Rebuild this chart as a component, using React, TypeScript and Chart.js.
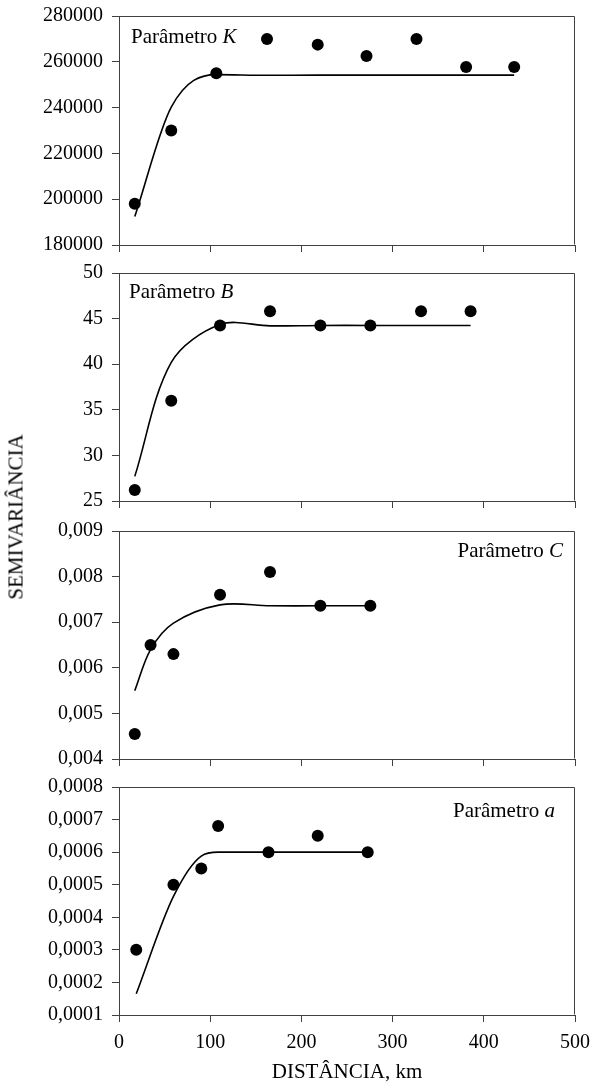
import React, { useEffect, useRef } from 'react';
import { Chart, registerables } from 'chart.js';

Chart.register(...registerables);

const FONT = "'Liberation Serif', 'Times New Roman', serif";
const AXIS_COLOR = '#404040';

// ---------- data ----------
const distTicks = [0, 100, 200, 300, 400, 500];

// Parâmetro K
const distK = [17.3, 57.3, 106.7, 162.3, 217.9, 271.4, 326.2, 380.6, 433.3];
const semivarK = [198000, 230000, 255000, 270000, 267500, 262500, 270000, 257700, 257700];
const modelK = [192400, 240200, 254400, 254100, 254200, 254200, 254200, 254200, 254200];
const ticksK = [180000, 200000, 220000, 240000, 260000, 280000];

// Parâmetro B
const distB = [17.3, 57.3, 110.8, 165.6, 220.8, 275.6, 331.2, 385.5];
const semivarB = [26.2, 36.0, 44.25, 45.8, 44.25, 44.25, 45.8, 45.8];
const modelB = [27.7, 40.2, 44.35, 44.2, 44.25, 44.25, 44.25, 44.25];
const ticksB = [25, 30, 35, 40, 45, 50];

// Parâmetro C
const distC = [17.3, 34.6, 59.7, 110.8, 165.6, 220.8, 275.6];
const semivarC = [0.00455, 0.0065, 0.0063, 0.0076, 0.0081, 0.00736, 0.00736];
const modelC = [0.0055, 0.0064, 0.00698, 0.00738, 0.00736, 0.00736, 0.00736];
const ticksC = [0.004, 0.005, 0.006, 0.007, 0.008, 0.009];

// Parâmetro a
const distA = [18.9, 59.7, 90.2, 108.7, 163.9, 217.9, 272.7];
const semivarA = [0.0003, 0.0005, 0.00055, 0.00068, 0.0006, 0.00065, 0.0006];
const modelA = [0.000165, 0.000464, 0.000588, 0.0006, 0.0006, 0.0006, 0.0006];
const ticksA = [0.0001, 0.0002, 0.0003, 0.0004, 0.0005, 0.0006, 0.0007, 0.0008];

const yTitle = 'SEMIVARIÂNCIA';
const xTitle = 'DISTÂNCIA, km';

// ---------- layout ----------
const PAGE_W = 590;
const PAGE_H = 1085;
const PLOT_LEFT = 119;
const PLOT_RIGHT = 575;

type PanelCfg = {
  dist: number[];
  points: number[];
  model: number[];
  ticks: number[];
  decimals: number;
  prefix: string;
  letter: string;
  align: 'left' | 'right';
  dx: number;
  dy: number;
  plotTop: number;
  plotBottom: number;
  last: boolean;
  smooth: 'monotone' | 'default';
};

const panels: PanelCfg[] = [
  { dist: distK, points: semivarK, model: modelK, ticks: ticksK, decimals: 0, prefix: 'Parâmetro ', letter: 'K', align: 'left', dx: 12, dy: 27, plotTop: 16, plotBottom: 245, last: false, smooth: 'monotone' },
  { dist: distB, points: semivarB, model: modelB, ticks: ticksB, decimals: 0, prefix: 'Parâmetro ', letter: 'B', align: 'left', dx: 10, dy: 25, plotTop: 273, plotBottom: 501, last: false, smooth: 'default' },
  { dist: distC, points: semivarC, model: modelC, ticks: ticksC, decimals: 3, prefix: 'Parâmetro ', letter: 'C', align: 'right', dx: 12, dy: 26, plotTop: 531, plotBottom: 759, last: false, smooth: 'default' },
  { dist: distA, points: semivarA, model: modelA, ticks: ticksA, decimals: 4, prefix: 'Parâmetro ', letter: 'a', align: 'right', dx: 20, dy: 30, plotTop: 787, plotBottom: 1015, last: true, smooth: 'monotone' },
];

const paramLabelPlugin = {
  id: 'paramLabel',
  afterDatasetsDraw(chart: any, _args: any, opts: any) {
    const { ctx, chartArea } = chart;
    const size = 21;
    const regular = `${size}px ${FONT}`;
    const italic = `italic ${size}px ${FONT}`;
    ctx.save();
    ctx.fillStyle = '#000';
    ctx.textBaseline = 'alphabetic';
    ctx.textAlign = 'left';
    ctx.font = regular;
    const w1 = ctx.measureText(opts.prefix).width;
    ctx.font = italic;
    const w2 = ctx.measureText(opts.letter).width;
    const x = opts.align === 'left' ? chartArea.left + opts.dx : chartArea.right - opts.dx - (w1 + w2);
    const y = chartArea.top + opts.dy;
    ctx.font = regular;
    ctx.fillText(opts.prefix, x, y);
    ctx.font = italic;
    ctx.fillText(opts.letter, x + w1, y);
    ctx.restore();
  },
};

const boxPlugin = {
  id: 'boxFrame',
  afterDraw(chart: any) {
    const { ctx, chartArea } = chart;
    const l = Math.round(chartArea.left) + 0.5;
    const t = Math.round(chartArea.top) + 0.5;
    const r = Math.round(chartArea.right) - 0.5;
    const b = Math.round(chartArea.bottom) - 0.5;
    ctx.save();
    ctx.strokeStyle = AXIS_COLOR;
    ctx.lineWidth = 1;
    ctx.beginPath();
    ctx.moveTo(l, t);
    ctx.lineTo(r, t);
    ctx.lineTo(r, b);
    ctx.stroke();
    ctx.restore();
  },
};

function Panel({ cfg }: { cfg: PanelCfg }) {
  const ref = useRef<HTMLCanvasElement>(null);
  const canvasTop = cfg.plotTop - 14;
  const canvasBottom = cfg.last ? PAGE_H : cfg.plotBottom + 14;
  const canvasH = canvasBottom - canvasTop;
  const xAxisH = cfg.last ? canvasBottom - cfg.plotBottom : 10;
  const padBottom = canvasBottom - cfg.plotBottom - xAxisH;

  useEffect(() => {
    const fmt = (v: number) =>
      cfg.decimals === 0 ? String(Math.round(v)) : Number(v).toFixed(cfg.decimals).replace('.', ',');
    const yMin = cfg.ticks[0];
    const yMax = cfg.ticks[cfg.ticks.length - 1];
    const yStep = cfg.ticks[1] - cfg.ticks[0];
    const chart = new Chart(ref.current as HTMLCanvasElement, {
      type: 'scatter',
      data: {
        datasets: [
          {
            label: 'modelo',
            data: cfg.dist.map((d, i) => ({ x: d, y: cfg.model[i] })),
            showLine: true,
            borderColor: '#000',
            borderWidth: 1.6,
            pointRadius: 0,
            tension: 0.33,
            cubicInterpolationMode: cfg.smooth,
            fill: false,
          },
          {
            label: 'semivariância',
            data: cfg.dist.map((d, i) => ({ x: d, y: cfg.points[i] })),
            showLine: false,
            pointRadius: 6,
            pointBackgroundColor: '#000',
            pointBorderColor: '#000',
            pointBorderWidth: 0,
            backgroundColor: '#000',
          },
        ],
      },
      options: {
        animation: false,
        responsive: false,
        devicePixelRatio: 1,
        events: [],
        layout: {
          autoPadding: false,
          padding: { top: 14, left: 0, right: PAGE_W - PLOT_RIGHT, bottom: padBottom },
        },
        plugins: {
          legend: { display: false },
          tooltip: { enabled: false },
          paramLabel: { prefix: cfg.prefix, letter: cfg.letter, align: cfg.align, dx: cfg.dx, dy: cfg.dy },
        } as any,
        scales: {
          x: {
            type: 'linear',
            min: distTicks[0],
            max: distTicks[distTicks.length - 1],
            afterFit: (s: any) => {
              s.height = xAxisH;
              s.paddingLeft = 0;
              s.paddingRight = 0;
              s.paddingTop = 0;
              s.paddingBottom = 0;
            },
            ticks: {
              stepSize: distTicks[1] - distTicks[0],
              display: cfg.last,
              color: '#000',
              padding: 9,
              font: { family: FONT, size: 20 },
              maxRotation: 0,
            },
            grid: { drawOnChartArea: false, drawTicks: true, tickLength: 7, color: AXIS_COLOR, lineWidth: 1 },
            border: { display: true, color: AXIS_COLOR, width: 1 },
            title: {
              display: cfg.last,
              text: xTitle,
              color: '#000',
              font: { family: FONT, size: 21 },
              padding: 0,
            },
          },
          y: {
            type: 'linear',
            min: yMin,
            max: yMax,
            afterFit: (s: any) => {
              s.width = PLOT_LEFT;
              s.paddingLeft = 0;
              s.paddingRight = 0;
              s.paddingTop = 0;
              s.paddingBottom = 0;
            },
            ticks: {
              stepSize: yStep,
              color: '#000',
              padding: 9,
              font: { family: FONT, size: 20 },
              callback: (v: any) => fmt(Number(v)),
            },
            grid: { drawOnChartArea: false, drawTicks: true, tickLength: 7, color: AXIS_COLOR, lineWidth: 1 },
            border: { display: true, color: AXIS_COLOR, width: 1 },
          },
        },
      } as any,
      plugins: [paramLabelPlugin, boxPlugin],
    });
    return () => chart.destroy();
  }, []);

  return (
    <canvas
      ref={ref}
      width={PAGE_W}
      height={canvasH}
      style={{ position: 'absolute', left: 0, top: canvasTop, width: PAGE_W, height: canvasH }}
    />
  );
}

export default function App() {
  return (
    <div style={{ position: 'absolute', left: 0, top: 0, width: PAGE_W, height: PAGE_H, background: '#fff', overflow: 'hidden' }}>
      {panels.map((p, i) => (
        <Panel key={i} cfg={p} />
      ))}
      <div style={{ position: 'absolute', left: 16, top: 517, width: 0, height: 0 }}>
        <div
          style={{
            position: 'absolute',
            left: 0,
            top: 0,
            transform: 'translate(-50%, -50%) rotate(-90deg)',
            whiteSpace: 'nowrap',
            fontFamily: FONT,
            fontSize: 21,
            lineHeight: 1,
            color: '#000',
          }}
        >
          {yTitle}
        </div>
      </div>
    </div>
  );
}
